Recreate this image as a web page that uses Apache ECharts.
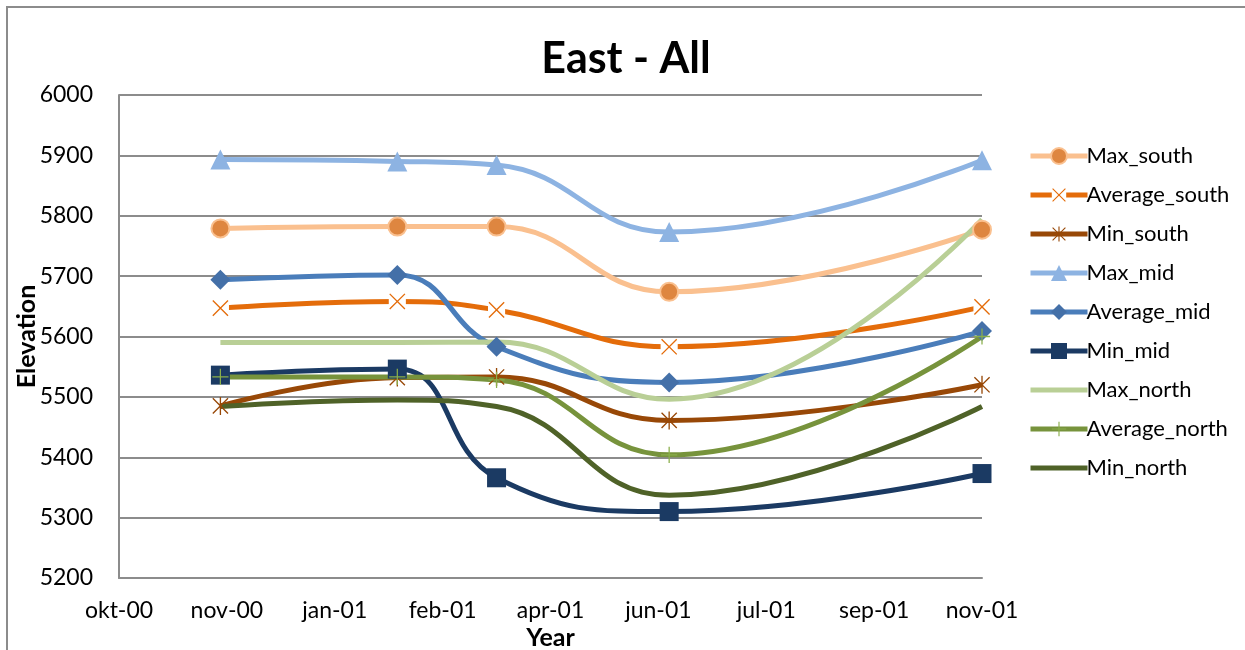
<!DOCTYPE html>
<html>
<head>
<meta charset="utf-8">
<script src="https://cdn.jsdelivr.net/npm/echarts@6/dist/echarts.min.js"></script>
<style>
  html, body { margin: 0; padding: 0; background: #fff; overflow: hidden; }
  #chart { width: 1245px; height: 650px; }
</style>
</head>
<body>
<div id="chart"></div>
<script>
// Survey dates, as days after 1 Oct 2000
const surveyDays = [47, 129, 175, 255, 400];
// Date axis labels, one every 50 days from 1 Oct 2000
const dateTickLabels = ['okt-00', 'nov-00', 'jan-01', 'feb-01', 'apr-01', 'jun-01', 'jul-01', 'sep-01', 'nov-01'];

const maxSouth     = [5779, 5782, 5782, 5674, 5777];
const averageSouth = [5647, 5658, 5644, 5583, 5649];
const minSouth     = [5485, 5532, 5533, 5461, 5520];
const maxMid       = [5893, 5890, 5884, 5773, 5892];
const averageMid   = [5694, 5702, 5583, 5524, 5609];
const minMid       = [5536, 5546, 5366, 5310, 5373];
const maxNorth     = [5590, 5590, 5591, 5496, 5794];
const averageNorth = [5533, 5533, 5528, 5404, 5600];
const minNorth     = [5484, 5495, 5484, 5337, 5484];

const FONT = 'Lato, "Open Sans", sans-serif';

function pairs(values) {
  return values.map((v, i) => [surveyDays[i], v]);
}

function svgSymbol(body) {
  const svg = '<svg xmlns="http://www.w3.org/2000/svg" width="40" height="40" viewBox="0 0 20 20">' + body + '</svg>';
  return 'image://data:image/svg+xml;charset=utf-8,' + encodeURIComponent(svg);
}

// X marker on a white box, asterisk and plus markers
const crossSymbol = svgSymbol('<rect x="1" y="1" width="18" height="18" fill="#ffffff"/><path d="M2 2L18 18M18 2L2 18" stroke="#E46C0A" stroke-width="1.4" fill="none"/>');
const starSymbol = svgSymbol('<path d="M2 2L18 18M18 2L2 18M10 0.5L10 19.5" stroke="#984807" stroke-width="1.4" fill="none"/>');
const plusSymbol = svgSymbol('<path d="M10 1L10 19M1 10L19 10" stroke="#8AAE4A" stroke-width="1.4" fill="none"/>');
// Plain line used as the legend key of series drawn without markers
const plainLineIcon = 'path://M0 0H57V5H0Z';

function lineSeries(name, values, color, width, symbol, symbolSize, itemStyle) {
  return {
    name: name,
    type: 'line',
    data: pairs(values),
    smooth: 0.45,
    lineStyle: { color: color, width: width },
    itemStyle: Object.assign({ color: color }, itemStyle || {}),
    symbol: symbol,
    symbolSize: symbolSize,
    showSymbol: symbol !== 'none',
    emphasis: { disabled: true },
    animation: false
  };
}

const series = [
  lineSeries('Max_south', maxSouth, '#FAC08F', 5, 'circle', 18, { color: '#DE8640', borderColor: '#FAC08F', borderWidth: 2 }),
  lineSeries('Average_south', averageSouth, '#E46C0A', 5, crossSymbol, 19),
  lineSeries('Min_south', minSouth, '#984807', 5, starSymbol, 19),
  lineSeries('Max_mid', maxMid, '#8DB3E2', 5, 'triangle', 20, { color: '#8DB3E2' }),
  lineSeries('Average_mid', averageMid, '#4A7DBA', 5, 'diamond', 20, { color: '#4470A8' }),
  lineSeries('Min_mid', minMid, '#1B3A63', 5, 'rect', 19, { color: '#1B3A63' }),
  lineSeries('Max_north', maxNorth, '#B9CF96', 5, 'none', 0),
  lineSeries('Average_north', averageNorth, '#77933C', 5, plusSymbol, 18),
  lineSeries('Min_north', minNorth, '#4F6228', 5, 'none', 0)
];

const legendItems = series.map(s => s.symbol === 'none'
  ? { name: s.name, icon: plainLineIcon }
  : { name: s.name });

const chart = echarts.init(document.getElementById('chart'), null, { renderer: 'canvas' });

chart.setOption({
  backgroundColor: '#ffffff',
  animation: false,
  title: {
    text: 'East - All',
    left: 621,
    textAlign: 'center',
    top: 33,
    textStyle: { fontFamily: FONT, fontSize: 43, fontWeight: 'bold', color: '#000' }
  },
  graphic: [{
    type: 'polyline',
    shape: { points: [[7, 800], [7, 7], [1400, 7]] },
    style: { fill: 'none', stroke: '#8C8C8C', lineWidth: 2 },
    silent: true,
    z: -10
  }],
  legend: {
    orient: 'vertical',
    left: 1023,
    top: 140,
    itemWidth: 57,
    itemHeight: 20,
    itemGap: 17,
    lineStyle: { width: 5 },
    textStyle: { fontFamily: FONT, fontSize: 22, color: '#000', lineHeight: 18, padding: [0, 0, 0, -6] },
    data: legendItems
  },
  grid: { left: 119, right: 263, top: 95, bottom: 72, containLabel: false, outerBoundsMode: 'none' },
  xAxis: {
    type: 'value',
    min: 0,
    max: 400,
    interval: 50,
    name: 'Year',
    nameLocation: 'middle',
    nameGap: 47,
    nameMoveOverlap: false,
    nameTextStyle: { fontFamily: FONT, fontSize: 25, fontWeight: 'bold', color: '#000' },
    axisLine: { show: true, lineStyle: { color: '#8C8C8C', width: 2 } },
    axisTick: { show: false },
    splitLine: { show: false },
    axisLabel: {
      fontFamily: FONT, fontSize: 23, color: '#000', margin: 21,
      formatter: v => dateTickLabels[Math.round(v / 50)] || ''
    }
  },
  yAxis: {
    type: 'value',
    min: 5200,
    max: 6000,
    interval: 100,
    name: 'Elevation',
    nameLocation: 'middle',
    nameRotate: 90,
    nameGap: 80,
    nameMoveOverlap: false,
    nameTextStyle: { fontFamily: FONT, fontSize: 25, fontWeight: 'bold', color: '#000' },
    axisLine: { show: true, lineStyle: { color: '#8C8C8C', width: 2 } },
    axisTick: { show: false },
    splitLine: { show: true, lineStyle: { color: '#8C8C8C', width: 2 } },
    axisLabel: { fontFamily: FONT, fontSize: 23, color: '#000', margin: 26, formatter: v => String(v) }
  },
  series: series
});
</script>
</body>
</html>
